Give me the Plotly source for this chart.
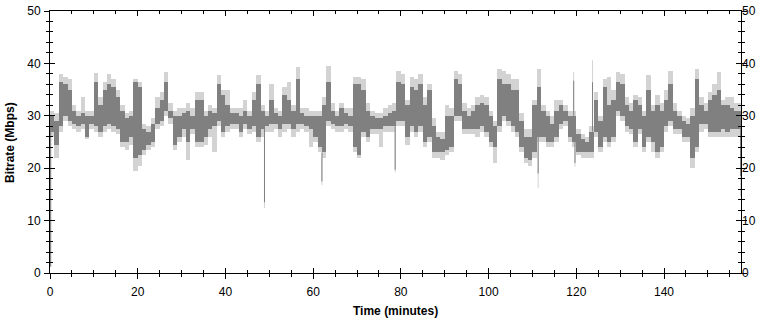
import plotly.graph_objects as go

# ---- data (per-minute bins) ----
minutes = list(range(158))
dark_lo = [27,24.5,28,30,29,28.5,28,28.5,26,28.5, 28,27,28,28.5,28,27.5,25,25,26,22,
           22.5,23.5,24.5,25,28.5,29,31,29.5,24.5,26, 27.5,25,27.5,25,25,26,27.5,28,29,27,
           28,28.5,28.5,27,28.5,27.5,28,26,27.5,28, 28.5,28.5,27.5,28.5,28.5,27.5,28.5,28.5,28,27.5,
           26,24,23,29,28.5,28,28,28.5,28,24, 22.5,27,26,27.5,27.5,27.5,28,28,28,29,
           29,26,28,27,28,25,26,23,23,23, 23.5,24,30,30,27.5,27.5,27.5,27.5,28,27,
           25,24,28,30,29,28,27,24,22,21.5, 23,26,26,25,25,26,28.5,29,26,25,
           23,23,23,23,27,24,26,25,26,31, 30,28,27.5,25,27.5,24,26,25,23,24,
           28,29,27.5,27.5,26,26,22,24,28.5,28.5, 27,27,27,27.5,27,27.5,27.5,27.5]
dark_hi = [30,29,36.5,36,35,31,30,30.5,30,30, 36.5,32,35,36,35.5,33.5,31,29.5,30,36.5,
           35.5,27.5,27,28.5,31.5,33,36.5,31,30,30, 30.5,31,30,33,33,30,31,30.5,36,34,
           32,30.5,30.5,30,31,30,33,36,31,30, 33,30.5,30,34,33,31,37,30.5,30,30,
           30,30,32,36.5,31,30,31.5,30.5,30,36, 36,35,31,30,29.5,29.5,30,30.5,31,36.5,
           36,32,35.5,35,36,32,35,28,26,25.5, 30,30,37,36,31,30,31,32,32.5,32,
           30,28,37,36,36,35,35,29,26,26, 32,35.5,31,30,28.5,31,32,31,30,30,
           26.5,25.5,25,27,33,29,35.5,32,33,36.5, 36,32,31,33,32,30,35,31,32,31,
           33,36,31,30,29,28.5,30,37,32,31, 33,34,35,32,32,31.5,31,31]
light_lo = [26,22,27,29,28,27.5,27,27.5,25.5,27.5, 27,26,27,27.5,27,26.5,24,23.5,24.5,19.5,
            20.5,22.5,23.5,24,27.5,28,30,28.5,23.5,25, 26,21.5,26.5,24,24,24.5,26,23,28,26,
            27,27.5,27.5,26,27.5,26.5,27,25,26,27, 27,27.5,26,27,27.5,26,27,27.5,27,24,
            25,23,22,28,27.5,27,27,27.5,27,23, 22,26,25,26.5,26.5,24,27,27,27,28,
            28,24.5,27,26,27,24,25,22,22,21.5, 22.5,23,29,29,26.5,26.5,26.5,26,27,26,
            24,21,27,29,28,27,26,23,21,20.5, 22,25,25,24,24,25,27.5,28,25,24,
            22.5,22,22,22,26,23,25,24,25,30, 29,27,26.5,24,26.5,23,25,23,22,23,
            27,28,26.5,26.5,25,25,20,23,27,27.5, 26,26,26,26,26,26,26,26]
light_hi = [31,30.5,38,37.5,37,32,31,33.5,31,31, 38.2,33.5,36.5,38,37,35,32,30.5,31,37,
            36.5,28.5,28,29.5,33.5,34.5,38.3,32.5,31,31.5, 31.5,32.5,31.5,34.5,34.5,31,32,31.5,37.7,35,
            35,31.5,31.5,31.5,33,31,34.5,37.7,32,31, 36,31.5,31,35.5,36.5,32,39.3,31.5,31.5,31,
            31,31,33.5,39.5,32.5,31,32.5,31.5,31.5,37.5, 37.5,37,32.5,31,30.5,30.5,31.5,32,32.5,38.5,
            38,33,37.5,37,38,33.5,36,29.5,27,27, 32,31.5,38.5,38,32.5,31.5,32,33.5,34,33.5,
            31,29,39,38.5,38,37,37,30.5,27.5,27.5, 33,39,32,31,30,33,33,32,31,31,
            27.5,26.5,26,28,34.5,30,37,37.5,35,38.3, 38,33.5,32.5,34,33.5,31,37.7,32,34,32.5,
            35,38.5,32.5,31,30,29.5,31.5,39,33.5,32.5, 34.5,36,38.3,33,33.5,33.5,32.5,32.5]

# isolated thin excursions (start-up ramp, deep dips, tall single spikes)
spike_t = [0.15, 48.9, 62.0, 78.7, 111.3, 119.4, 119.7, 123.7, 157.45]
spike_dark = [1.2, 13.5, 17.5, 19.7, 19.0, 36.7, 21.0, 36.4, 18.5]
spike_light = [1.2, 12.4, 16.8, 19.2, 16.2, 38.3, 20.3, 40.6, 14.6]

y_ticks = [0, 10, 20, 30, 40, 50]
x_ticks = [0, 20, 40, 60, 80, 100, 120, 140]

DARK = "#808080"
LIGHT = "#d3d3d3"

centers = [m + 0.5 for m in minutes]

def spike_segments(values, lo, hi):
    xs, ys = [], []
    for t, v in zip(spike_t, values):
        i = min(int(t), len(minutes) - 1)
        if v < lo[i]:
            start = lo[i]
        elif v > hi[i]:
            start = hi[i]
        else:
            continue
        xs += [t, t, None]
        ys += [start, v, None]
    return xs, ys

fig = go.Figure()
fig.add_trace(go.Bar(x=centers, y=[h - l for h, l in zip(light_hi, light_lo)], base=light_lo,
                     width=1, marker=dict(color=LIGHT, line=dict(width=0)), showlegend=False))
fig.add_trace(go.Bar(x=centers, y=[h - l for h, l in zip(dark_hi, dark_lo)], base=dark_lo,
                     width=1, marker=dict(color=DARK, line=dict(width=0)), showlegend=False))
lx, ly = spike_segments(spike_light, light_lo, light_hi)
fig.add_trace(go.Scatter(x=lx, y=ly, mode="lines", line=dict(color=LIGHT, width=1),
                         showlegend=False, hoverinfo="skip"))
dx, dy = spike_segments(spike_dark, dark_lo, dark_hi)
fig.add_trace(go.Scatter(x=dx, y=dy, mode="lines", line=dict(color=DARK, width=1),
                         showlegend=False, hoverinfo="skip"))
# dummy trace so the overlay axes are drawn
fig.add_trace(go.Scatter(x=[None], y=[None], xaxis="x2", yaxis="y2", showlegend=False))

XR = [0, 157.55]
YR = [0, 50]
tickfont = dict(family="Liberation Sans, Arial, sans-serif", size=12, color="black")
titlefont = dict(family="Liberation Sans, Arial, sans-serif", size=12, color="black")

fig.update_layout(
    width=770, height=323,
    margin=dict(l=50, r=29, t=11, b=50, autoexpand=False),
    paper_bgcolor="white", plot_bgcolor="white",
    barmode="overlay", bargap=0,
    xaxis=dict(range=XR, showgrid=False, zeroline=False, showline=True, linecolor="black",
               linewidth=1, mirror=True, ticks="outside", ticklen=5, tickcolor="black",
               tickvals=x_ticks, ticktext=[str(v) for v in x_ticks], tickfont=tickfont,
               ticklabelstandoff=3,
               minor=dict(dtick=5, ticks="outside", ticklen=3, tickcolor="black"),
               fixedrange=True, automargin=False),
    yaxis=dict(range=YR, showgrid=False, zeroline=False, showline=True, linecolor="black",
               linewidth=1, mirror="allticks", ticks="outside", ticklen=5, tickcolor="black",
               tickvals=y_ticks, ticktext=[str(v) for v in y_ticks], tickfont=tickfont,
               ticklabelstandoff=1,
               minor=dict(dtick=2, ticks="outside", ticklen=3, tickcolor="black"),
               fixedrange=True, automargin=False),
    xaxis2=dict(range=XR, overlaying="x", anchor="y2", showgrid=False, zeroline=False,
                showline=False, mirror="allticks", ticks="inside", ticklen=5, tickcolor="black",
                tickvals=x_ticks, showticklabels=False, automargin=False,
                minor=dict(dtick=5, ticks="inside", ticklen=3, tickcolor="black")),
    yaxis2=dict(range=YR, overlaying="y", side="right", anchor="x2", showgrid=False,
                zeroline=False, showline=False, mirror="allticks", ticks="inside", ticklen=5,
                tickcolor="black", tickvals=y_ticks, ticktext=[str(v) for v in y_ticks],
                tickfont=tickfont, automargin=False,
                minor=dict(dtick=2, ticks="inside", ticklen=3, tickcolor="black")),
    annotations=[
        dict(text="<b>Bitrate (Mbps)</b>", textangle=-90, xref="paper", yref="paper",
             x=-0.0579, y=0.5, xanchor="center", yanchor="middle", showarrow=False,
             font=titlefont),
        dict(text="<b>Time (minutes)</b>", xref="paper", yref="paper",
             x=0.5007, y=-0.145, xanchor="center", yanchor="middle", showarrow=False,
             font=titlefont),
    ],
)

fig.write_html("out.html", config={"displayModeBar": False},
               post_script="document.body.style.margin='0';document.body.style.overflow='hidden';")
